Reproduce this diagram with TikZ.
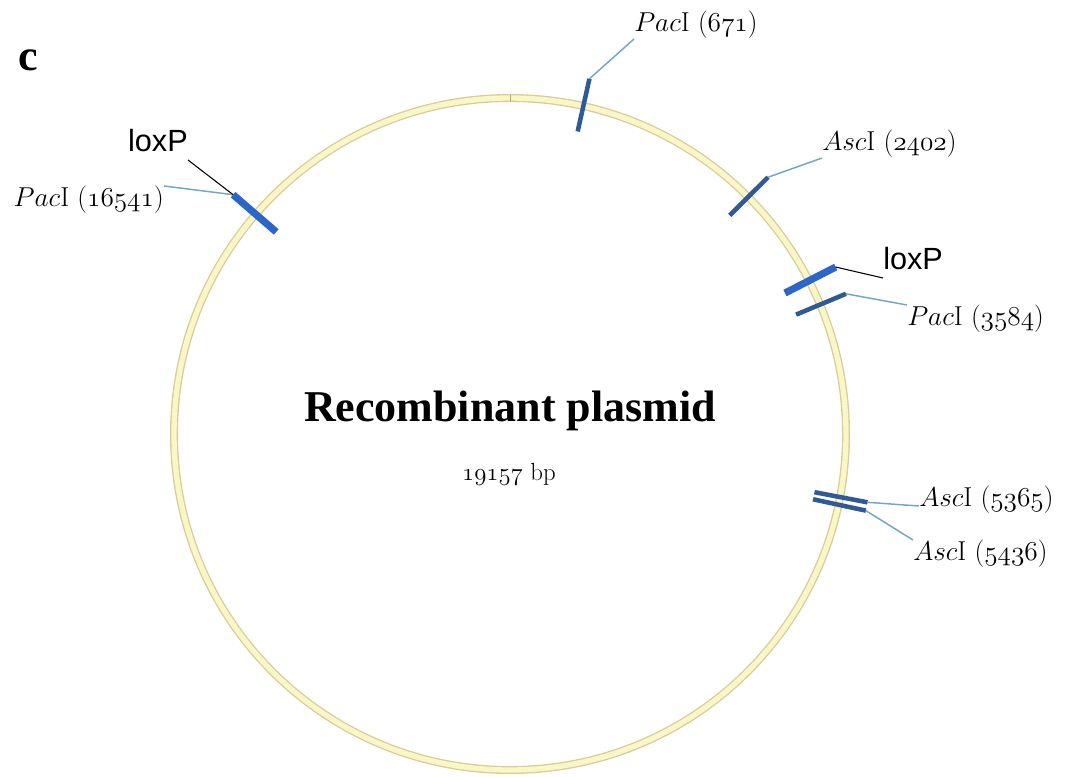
\documentclass[tikz,border=0pt]{standalone}
\usepackage{fix-cm}
\usepackage{fontspec}
\newfontfamily\titlefont{Liberation Serif}
\newfontfamily\loxfont{Liberation Sans}
\usetikzlibrary{positioning}

\definecolor{ringedge}{RGB}{214,206,150}
\definecolor{ringfill}{RGB}{250,246,200}
\definecolor{sitecol}{RGB}{48,90,150}
\definecolor{loxcol}{RGB}{44,102,200}
\definecolor{leadcol}{RGB}{112,166,200}

% old style digits from the math italic font
\newcommand\bpnum[1]{$\mathnormal{#1}$}

\begin{document}
\begin{tikzpicture}[x=0.75pt, y=-0.75pt,
    cutsite/.style={draw=sitecol, line width=3.4pt},
    loxsite/.style={draw=loxcol, line width=5.4pt},
    leader/.style={draw=leadcol, line width=1.1pt},
    loxleader/.style={draw=black, line width=0.8pt},
    sitelabel/.style={inner sep=0pt, font=\fontsize{20.5}{24}\selectfont},
    loxlabel/.style={inner xsep=0pt, inner ysep=6pt, font=\loxfont\fontsize{23}{27}\selectfont}]

    \useasboundingbox (0,0) rectangle (1066,776);

    % plasmid backbone
    \draw[ringedge, line width=6pt] (510,434) circle (336);
    \draw[ringfill, line width=4pt] (510,434) circle (336);

    \begin{scope}[shift={(510,434)}]
        % origin mark
        \draw[ringedge!80!black, line width=0.5pt] (-90:333) -- (-90:339);

        % restriction sites, positions in kb of 19.157 kb
        \foreach \kb/\id in {0.671/p1, 2.402/a1, 3.584/p2, 5.365/a2, 5.436/a3, 16.541/p3}{
            \pgfmathsetmacro\ang{\kb/19.157*360-90}
            \draw[cutsite] (\ang:310) -- (\ang:364) coordinate (\id);
        }

        % loxP sites
        \foreach \kb/\id in {3.345/x1, 16.541/x2}{
            \pgfmathsetmacro\ang{\kb/19.157*360-90}
            \draw[loxsite] (\ang:309) -- (\ang:366) coordinate (\id);
        }
    \end{scope}

    % site labels
    \node[sitelabel, anchor=south west] (l671) at (634,39) {$Pac$I (\bpnum{671})};
    \node[sitelabel, anchor=south west] (l2402) at (822,158) {$Asc$I (\bpnum{2402})};
    \node[sitelabel, anchor=north west] (l3584) at (907,305) {$Pac$I (\bpnum{3584})};
    \node[sitelabel, anchor=base west] (l5365) at (919,506) {$Asc$I (\bpnum{5365})};
    \node[sitelabel, anchor=north west] (l5436) at (913,540) {$Asc$I (\bpnum{5436})};
    \node[sitelabel, anchor=north east] (l16541) at (164,186) {$Pac$I (\bpnum{16541})};

    \node[loxlabel, anchor=south west] (loxR) at (883,278) {loxP};
    \node[loxlabel, anchor=south east] (loxL) at (188,160) {loxP};

    % leader lines
    \draw[leader] (p1) -- (l671.south west);
    \draw[leader] (a1) -- (l2402.south west);
    \draw[leader] (p2) -- (l3584.north west);
    \draw[leader] (a2) -- (l5365.base west);
    \draw[leader] (a3) -- (l5436.north west);
    \draw[leader] (x2) -- (l16541.north east);
    \draw[loxleader] (x1) -- (loxR.south west);
    \draw[loxleader] (x2) -- (loxL.south east);

    % titles
    \node[inner sep=0pt, anchor=base, font=\titlefont\bfseries\fontsize{33}{39}\selectfont] (name) at (510,421) {Recombinant plasmid};
    \node[inner sep=0pt, anchor=base, font=\fontsize{18.6}{22}\selectfont] (size) at (509,480) {\bpnum{19157} bp};
    \node[inner sep=0pt, anchor=base west, font=\titlefont\bfseries\fontsize{33}{38}\selectfont] (panel) at (18,70) {c};
\end{tikzpicture}
\end{document}
